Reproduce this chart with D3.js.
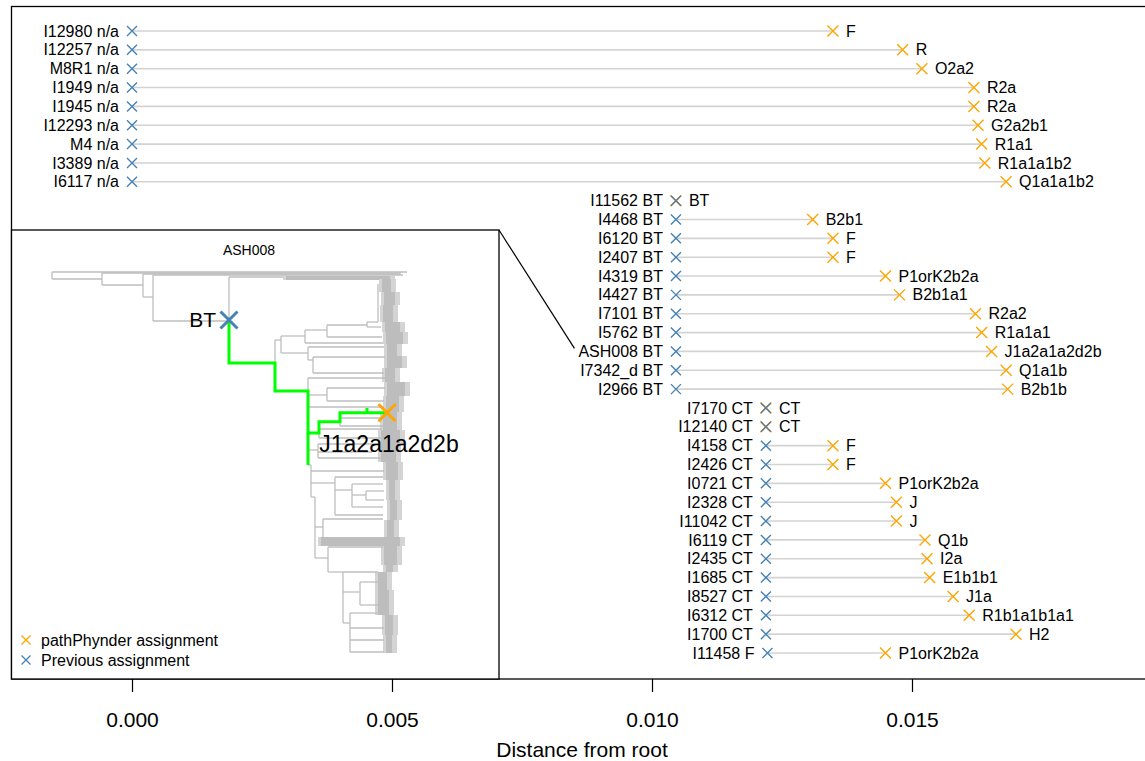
<!DOCTYPE html>
<html>
<head>
<meta charset="utf-8">
<script src="https://cdn.jsdelivr.net/npm/d3@7"></script>
<style>
  body { margin: 0; background: #fff; }
  text { font-family: "Liberation Sans", Arial, Helvetica, sans-serif; }
</style>
</head>
<body>
<svg id="chart" width="1145" height="761"></svg>
<script>
// samples, previous haplogroup and pathPhynder haplogroup
var samples = ["I12980", "I12257", "M8R1", "I1949", "I1945", "I12293", "M4", "I3389", "I6117",
    "I11562", "I4468", "I6120", "I2407", "I4319", "I4427", "I7101", "I5762", "ASH008", "I7342_d", "I2966",
    "I7170", "I12140", "I4158", "I2426", "I0721", "I2328", "I11042", "I6119", "I2435", "I1685", "I8527",
    "I6312", "I1700", "I11458"];
var prevGroup = ["n/a", "n/a", "n/a", "n/a", "n/a", "n/a", "n/a", "n/a", "n/a",
    "BT", "BT", "BT", "BT", "BT", "BT", "BT", "BT", "BT", "BT", "BT",
    "CT", "CT", "CT", "CT", "CT", "CT", "CT", "CT", "CT", "CT", "CT", "CT", "CT", "F"];
var pathGroup = ["F", "R", "O2a2", "R2a", "R2a", "G2a2b1", "R1a1", "R1a1a1b2", "Q1a1a1b2",
    "BT", "B2b1", "F", "F", "P1orK2b2a", "B2b1a1", "R2a2", "R1a1a1", "J1a2a1a2d2b", "Q1a1b", "B2b1b",
    "CT", "CT", "F", "F", "P1orK2b2a", "J", "J", "Q1b", "I2a", "E1b1b1", "J1a", "R1b1a1b1a1", "H2", "P1orK2b2a"];
// distance from root of each assignment
var prevDist = [0, 0, 0, 0, 0, 0, 0, 0, 0,
    0.01046, 0.01046, 0.01046, 0.01046, 0.01046, 0.01046, 0.01046, 0.01046, 0.01046, 0.01046, 0.01046,
    0.01219, 0.01219, 0.01219, 0.01219, 0.01219, 0.01219, 0.01219, 0.01219, 0.01219, 0.01219, 0.01219,
    0.01219, 0.01219, 0.01222];
var pathDist = [0.01348, 0.01482, 0.01519, 0.01619, 0.01619, 0.01627, 0.01634, 0.01640, 0.01681,
    0.01046, 0.01309, 0.01348, 0.01348, 0.01449, 0.01476, 0.01622, 0.01634, 0.01653, 0.01681, 0.01684,
    0.01219, 0.01219, 0.01348, 0.01348, 0.01449, 0.01470, 0.01470, 0.01525, 0.01529, 0.01534, 0.01579,
    0.01610, 0.01700, 0.01449];
var tickValues = [0, 0.005, 0.010, 0.015];

// inset tree (ASH008), depth units / tip index
// horizontal edges: [tip, depthFrom, depthTo]
var treeH = [
    [0, 0, 35.5], [7, 0, 5.0], [1, 5.0, 34.9], [13, 5.0, 9.1], [2, 9.1, 34.8], [25, 9.1, 10.1],
    [3, 10.1, 35.1], [49, 10.1, 17.7], [5, 17.7, 23.1],
    [68, 22.3, 22.9], [64, 22.9, 25.3], [58, 25.3, 27.5], [53, 27.5, 31.5], [50, 31.5, 32.6],
    [55, 31.5, 32.9], [65, 27.5, 33.0], [71, 25.3, 33.1], [81, 22.9, 25.6], [75, 25.6, 33.2],
    [88, 25.6, 26.1], [85, 26.1, 33.3], [101, 26.1, 33.2],
    [106, 25.6, 34.0], [123, 25.6, 27.5], [116, 27.5, 33.3], [129, 27.5, 33.2], [135, 25.6, 33.2],
    [146, 28.8, 33.2], [154, 28.8, 33.3], [157, 26.7, 33.0], [166, 26.7, 33.1],
    [178, 25.6, 26.6], [172, 26.6, 32.8], [180, 26.6, 32.0], [186, 26.6, 33.1], [193, 25.6, 25.9],
    [199, 25.9, 33.2], [211, 25.9, 28.3], [205, 28.3, 33.1], [243, 28.3, 33.1], [218, 28.3, 30.0],
    [212, 30.0, 33.1], [235, 30.0, 33.1], [223, 30.0, 31.4], [219, 31.4, 33.2], [228, 31.4, 33.2],
    [225, 25.9, 26.3], [255, 26.3, 27.1], [247, 27.1, 33.1], [286, 26.3, 27.6], [275, 27.6, 33.1],
    [300, 27.6, 29.1], [300, 29.1, 32.6], [320, 29.1, 30.8], [310, 30.8, 32.6], [333, 30.8, 32.6],
    [351, 29.1, 29.8], [341, 29.8, 32.8], [356, 29.8, 33.2], [368, 29.8, 33.2], [380, 29.8, 33.2]
];
// vertical edges: [depth, tipFrom, tipTo]
var treeV = [
    [0, 0, 7], [5.0, 1, 13], [9.1, 2, 25], [10.1, 3, 49], [17.7, 5, 48],
    [22.3, 68, 91], [22.9, 64, 81], [25.3, 58, 71], [27.5, 53, 65], [31.5, 50, 55], [32.6, 12, 50],
    [25.6, 75, 88], [26.1, 85, 101], [25.6, 106, 119], [27.5, 116, 129], [28.8, 146, 154],
    [26.7, 161, 166], [26.6, 172, 186], [25.9, 193, 225], [28.3, 205, 243], [30.0, 212, 235],
    [31.4, 219, 228], [26.3, 225, 286], [27.1, 247, 265], [27.6, 275, 300], [29.1, 300, 351],
    [30.8, 310, 333], [29.8, 341, 380]
];
// dense tip clades: [tipFrom, tipTo, depthFrom, depthTo]
var fringe = [
    [4, 8, 23.1, 34.3],
    [7, 20, 32.7, 34.4], [20, 33, 32.9, 34.8], [33, 50, 32.8, 34.6], [50, 60, 33.0, 35.3],
    [60, 72, 33.1, 35.6], [72, 84, 33.2, 35.0], [84, 96, 33.2, 35.5], [96, 110, 33.0, 34.8],
    [110, 124, 33.2, 35.8], [124, 140, 33.1, 35.2], [140, 158, 32.8, 35.0], [158, 173, 32.6, 35.3],
    [173, 190, 32.6, 34.9], [190, 208, 33.1, 35.1], [208, 228, 33.4, 34.8], [228, 248, 33.5, 35.0],
    [248, 265, 33.2, 34.7], [265, 274, 26.6, 35.3], [274, 293, 32.9, 35.0], [293, 300, 33.1, 34.6],
    [300, 318, 32.3, 34.0], [318, 343, 32.3, 34.2], [343, 363, 33.0, 34.6], [363, 381, 33.1, 34.5]
];
// highlighted path BT -> J1a2a1a2d2b: [depth, tip]
var greenPath = [[17.7, 48], [17.7, 91], [22.3, 91], [22.3, 119], [25.6, 119], [25.6, 161],
    [26.7, 161], [26.7, 149.7], [28.8, 149.7], [28.8, 140.7], [33.5, 140.7]];
var greenExtra = [[25.6, 161, 193], [31.5, 136, 140.7]];
var btNode = [17.7, 48], ashTip = [33.5, 140.7];

var blue = "#4682b4", orange = "#ffa500";

var svg = d3.select("#chart");

var rows = samples.map(function (s, i) {
    return { s: s, prev: prevGroup[i], path: pathGroup[i], d0: prevDist[i], d1: pathDist[i] };
});

var x = d3.scaleLinear().domain([0, 0.015]).range([132, 912]);
var y = d3.scalePoint().domain(samples).range([31, 653]);

function cross(g, cx, cy, r, color, w) {
    g.append("path")
        .attr("d", "M" + (cx - r) + "," + (cy - r) + "L" + (cx + r) + "," + (cy + r) +
            "M" + (cx - r) + "," + (cy + r) + "L" + (cx + r) + "," + (cy - r))
        .attr("stroke", color)
        .attr("stroke-width", w)
        .attr("fill", "none");
}

// plot box
svg.append("rect")
    .attr("x", 11.5).attr("y", 6.5)
    .attr("width", 1200).attr("height", 672.5)
    .attr("fill", "none").attr("stroke", "#000").attr("stroke-width", 1.3);

var main = svg.append("g");

main.selectAll("line.seg")
    .data(rows)
    .enter().append("line")
    .attr("class", "seg")
    .attr("x1", function (d) { return x(d.d0); })
    .attr("x2", function (d) { return x(d.d1); })
    .attr("y1", function (d) { return y(d.s); })
    .attr("y2", function (d) { return y(d.s); })
    .attr("stroke", "#d3d3d3")
    .attr("stroke-width", 1.6);

rows.forEach(function (d) {
    cross(main, x(d.d1), y(d.s), 5.5, orange, 1.4);
});
rows.forEach(function (d) {
    cross(main, x(d.d0), y(d.s), 5, d.prev === d.path ? "#5b7896" : blue, 1.4);
});

var leftLabels = main.selectAll("text.left")
    .data(rows)
    .enter().append("text")
    .attr("class", "left")
    .attr("x", function (d) { return x(d.d0) - 13; })
    .attr("y", function (d) { return y(d.s); })
    .attr("dy", "0.35em")
    .attr("text-anchor", "end")
    .style("font-size", "16px")
    .text(function (d) { return d.s + " " + d.prev; });

main.selectAll("text.right")
    .data(rows)
    .enter().append("text")
    .attr("class", "right")
    .attr("x", function (d) { return x(d.d1) + 13; })
    .attr("y", function (d) { return y(d.s); })
    .attr("dy", "0.35em")
    .style("font-size", "16px")
    .text(function (d) { return d.path; });

// axis
var axis = svg.append("g")
    .attr("transform", "translate(0,679)")
    .call(d3.axisBottom(x).tickValues(tickValues).tickFormat(d3.format(".3f")).tickSize(13).tickPadding(20));
axis.select(".domain").remove();
axis.selectAll("line").attr("stroke-width", 1.2);
axis.selectAll("text")
    .style("font-size", "21px")
    .style("font-family", "'Liberation Sans', Arial, sans-serif");

svg.append("text")
    .attr("x", 582).attr("y", 757)
    .attr("text-anchor", "middle")
    .style("font-size", "21px")
    .text("Distance from root");

// inset
var inset = svg.append("g");

inset.append("rect")
    .attr("x", 11.5).attr("y", 230)
    .attr("width", 487.5).attr("height", 449)
    .attr("fill", "#fff").attr("stroke", "#000").attr("stroke-width", 1.3);

// connector from inset to the ASH008 row
var ashLabel = leftLabels.filter(function (d) { return d.s === "ASH008"; }).node().getBBox();
svg.append("line")
    .attr("x1", 499).attr("y1", 230)
    .attr("x2", ashLabel.x - 4).attr("y2", y("ASH008") - 3)
    .attr("stroke", "#000").attr("stroke-width", 1.2);

var xIn = d3.scaleLinear().domain([0, 35.5]).range([52, 407]);
var yIn = d3.scaleLinear().domain([0, 383]).range([272, 655]);

// dense clades: light frayed edge plus darker core
var clades = inset.selectAll("g.clade")
    .data(fringe)
    .enter().append("g")
    .attr("class", "clade");
clades.append("rect")
    .attr("x", function (d) { return xIn(d[2]); })
    .attr("y", function (d) { return yIn(d[0]); })
    .attr("width", function (d) { return xIn(d[3]) - xIn(d[2]); })
    .attr("height", function (d) { return yIn(d[1]) - yIn(d[0]); })
    .attr("fill", "#d4d4d4");
clades.append("rect")
    .attr("x", function (d) { return xIn(d[2]) + 3; })
    .attr("y", function (d) { return yIn(d[0]); })
    .attr("width", function (d) { return Math.max(0, xIn(d[3]) - xIn(d[2]) - 8); })
    .attr("height", function (d) { return yIn(d[1]) - yIn(d[0]); })
    .attr("fill", "#bdbdbd");

inset.selectAll("line.h")
    .data(treeH)
    .enter().append("line")
    .attr("class", "h")
    .attr("x1", function (d) { return xIn(d[1]); })
    .attr("x2", function (d) { return xIn(d[2]); })
    .attr("y1", function (d) { return yIn(d[0]); })
    .attr("y2", function (d) { return yIn(d[0]); })
    .attr("stroke", "#bebebe").attr("stroke-width", 1.3);

inset.selectAll("line.v")
    .data(treeV)
    .enter().append("line")
    .attr("class", "v")
    .attr("x1", function (d) { return xIn(d[0]); })
    .attr("x2", function (d) { return xIn(d[0]); })
    .attr("y1", function (d) { return yIn(d[1]); })
    .attr("y2", function (d) { return yIn(d[2]); })
    .attr("stroke", "#bebebe").attr("stroke-width", 1.3);

inset.append("path")
    .datum(greenPath)
    .attr("d", d3.line().x(function (d) { return xIn(d[0]); }).y(function (d) { return yIn(d[1]); }))
    .attr("fill", "none").attr("stroke", "#00ff00").attr("stroke-width", 3);

inset.selectAll("line.g")
    .data(greenExtra)
    .enter().append("line")
    .attr("x1", function (d) { return xIn(d[0]); })
    .attr("x2", function (d) { return xIn(d[0]); })
    .attr("y1", function (d) { return yIn(d[1]); })
    .attr("y2", function (d) { return yIn(d[2]); })
    .attr("stroke", "#00ff00").attr("stroke-width", 3);

cross(inset, xIn(btNode[0]), yIn(btNode[1]), 8.5, blue, 3);
cross(inset, xIn(ashTip[0]), yIn(ashTip[1]), 8.5, orange, 3);

inset.append("text")
    .attr("x", xIn(btNode[0]) - 13).attr("y", yIn(btNode[1]))
    .attr("dy", "0.35em").attr("text-anchor", "end")
    .style("font-size", "21px")
    .text("BT");

inset.append("text")
    .attr("x", xIn(ashTip[0]) + 2).attr("y", yIn(ashTip[1]) + 31)
    .attr("dy", "0.35em").attr("text-anchor", "middle")
    .style("font-size", "23px")
    .text("J1a2a1a2d2b");

inset.append("text")
    .attr("x", 249).attr("y", 250)
    .attr("dy", "0.35em").attr("text-anchor", "middle")
    .style("font-size", "14px")
    .text("ASH008");

// legend
var legend = inset.append("g");
[["pathPhynder assignment", orange], ["Previous assignment", blue]].forEach(function (l, i) {
    var ly = 640 + i * 20;
    cross(legend, 26, ly, 4.5, l[1], 1.3);
    legend.append("text")
        .attr("x", 41).attr("y", ly)
        .attr("dy", "0.35em")
        .style("font-size", "16px")
        .text(l[0]);
});
</script>
</body>
</html>
